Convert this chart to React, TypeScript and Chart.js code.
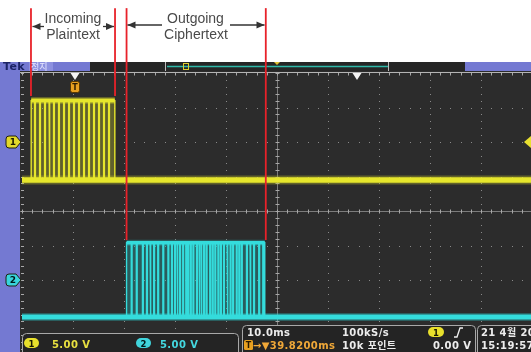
import React, { useEffect, useRef } from "react";
import { Chart, registerables } from "chart.js";
Chart.register(...registerables);

// Time axis in ms (10 ms/div), vertical axis in graticule divisions
const xGridTicks = [0, 10, 20, 30, 40, 50, 60, 70, 80, 90, 100];
const yGridTicks = [0, 1, 2, 3, 4, 5, 6, 7, 8];
const X_MAX = 99.8;

// Channel 1 (Incoming Plaintext)
const ch1Levels = [4.9, 7.2]; // low, high (div)
const ch1Burst = [1.8, 18.2]; // ms
const ch1Dips = [2.55, 3.53, 4.51, 5.39, 6.27, 7.25, 8.24, 9.22, 10.2, 11.18, 12.16, 13.14, 14.12, 15.1, 16.08, 17.06];

// Channel 2 (Outgoing Ciphertext)
const ch2Levels = [0.93, 3.08];
const ch2Burst = [20.5, 47.6];
const ch2Dips = [21.5, 22.5, 23.7, 24.5, 25.2, 25.9, 26.7, 27.7, 28.7, 29.4, 30.0, 30.5, 31.0, 31.6, 32.2, 32.6, 33.1, 33.6, 34.3, 34.8, 35.2, 35.7, 36.2, 36.9, 37.4, 37.9, 38.5, 39.0, 39.6, 40.3, 40.9, 41.4, 42.1, 42.6, 43.1, 44.1, 44.8, 45.5, 46.5, 47.3];

// Annotation markers (ms) and their lower ends (div)
const annoTimes = [1.76, 18.24, 20.5, 47.8];
const annoEnds = [7.33, 7.33, 3.16, 3.16];
const annoTop = 9.88;

function stepSeries(burst: number[], dips: number[], low: number, high: number, w: number) {
  const pts: { x: number; y: number }[] = [{ x: burst[0], y: low }, { x: burst[0], y: high }];
  for (const t of dips) {
    pts.push({ x: t - w, y: high }, { x: t - w, y: low }, { x: t + w, y: low }, { x: t + w, y: high });
  }
  pts.push({ x: burst[1], y: high }, { x: burst[1], y: low });
  return pts;
}

const YEL = "#e6e62c";
const CYN = "#34dcdc";
const BLUE = "#7479d2";

const bgPlugin = {
  id: "scopeBg",
  beforeDraw(chart: any) {
    const ctx = chart.ctx;
    const xs = chart.scales.x, ys = chart.scales.y;
    ctx.save();
    ctx.fillStyle = "#ffffff";
    ctx.fillRect(0, 0, 531, 352);
    ctx.fillStyle = "#2c2c2c";
    ctx.fillRect(20, 71, 511, 281);
    ctx.fillStyle = BLUE;
    ctx.fillRect(0, 62, 20, 290);
    // top bar
    ctx.fillRect(0, 62, 90, 9);
    ctx.fillStyle = "#8c90e0";
    ctx.fillRect(29, 62, 24, 9);
    ctx.fillStyle = "#262626";
    ctx.fillRect(90, 62, 375, 9);
    ctx.fillStyle = BLUE;
    ctx.fillRect(465, 62, 66, 9);
    ctx.strokeStyle = "#bdbdbd";
    ctx.lineWidth = 1;
    ctx.beginPath();
    ctx.moveTo(165.5, 62); ctx.lineTo(165.5, 71);
    ctx.moveTo(388.5, 62); ctx.lineTo(388.5, 71);
    ctx.stroke();
    ctx.strokeStyle = "#2fb8a8";
    ctx.lineWidth = 1.5;
    ctx.beginPath();
    ctx.moveTo(167, 66.5); ctx.lineTo(388, 66.5);
    ctx.stroke();
    ctx.strokeStyle = "#e0d030";
    ctx.lineWidth = 1;
    ctx.strokeRect(183.5, 63.5, 5, 6);
    ctx.fillStyle = "#e0c030";
    ctx.beginPath();
    ctx.moveTo(274, 62); ctx.lineTo(280, 62); ctx.lineTo(277, 65); ctx.closePath();
    ctx.fill();

    // graticule dots
    ctx.fillStyle = "#8a8a8a";
    for (const xv of xGridTicks) {
      const px = Math.round(xs.getPixelForValue(xv));
      for (let j = 0; j <= 40; j++) {
        const py = Math.round(ys.getPixelForValue(j * 0.2));
        ctx.fillRect(px, py, 1, 1);
      }
    }
    for (const yv of yGridTicks) {
      const py = Math.round(ys.getPixelForValue(yv));
      for (let j = 0; j <= 50; j++) {
        const px = Math.round(xs.getPixelForValue(j * 2));
        ctx.fillRect(px, py, 1, 1);
      }
    }
    // center cross-hair
    const cx = Math.round(xs.getPixelForValue(50)) + 0.5;
    const cy = Math.round(ys.getPixelForValue(4)) + 0.5;
    const top = Math.round(ys.getPixelForValue(8)) - 0.5;
    ctx.strokeStyle = "#7c7c7c";
    ctx.lineWidth = 1;
    ctx.beginPath();
    ctx.moveTo(20, cy); ctx.lineTo(531, cy);
    ctx.moveTo(cx, top); ctx.lineTo(cx, 352);
    ctx.stroke();
    ctx.strokeStyle = "#a8a8a8";
    ctx.beginPath();
    for (let j = 0; j <= 50; j++) {
      const px = Math.round(xs.getPixelForValue(j * 2)) + 0.5;
      ctx.moveTo(px, cy - 2); ctx.lineTo(px, cy + 2);
      ctx.moveTo(px, top); ctx.lineTo(px, top + 3);
    }
    for (let j = 0; j <= 40; j++) {
      const py = Math.round(ys.getPixelForValue(j * 0.2)) + 0.5;
      ctx.moveTo(cx - 2, py); ctx.lineTo(cx + 2, py);
      ctx.moveTo(21, py); ctx.lineTo(24, py);
    }
    ctx.stroke();
    ctx.strokeStyle = "#b4b4b4";
    ctx.beginPath();
    ctx.moveTo(20, top); ctx.lineTo(531, top);
    ctx.stroke();
    ctx.restore();
  },
  afterDatasetsDraw(chart: any) {
    const ctx = chart.ctx;
    const xs = chart.scales.x, ys = chart.scales.y;
    ctx.save();
    // red annotation lines
    ctx.strokeStyle = "#e8222a";
    ctx.lineWidth = 1.8;
    annoTimes.forEach((t, i) => {
      const px = xs.getPixelForValue(t);
      ctx.beginPath();
      ctx.moveTo(px, ys.getPixelForValue(annoTop));
      ctx.lineTo(px, ys.getPixelForValue(annoEnds[i]));
      ctx.stroke();
    });
    // arrows
    const arrow = (x1: number, x2: number, y: number) => {
      ctx.strokeStyle = "#333";
      ctx.fillStyle = "#333";
      ctx.lineWidth = 1.3;
      ctx.beginPath();
      ctx.moveTo(x1, y); ctx.lineTo(x2, y);
      ctx.stroke();
      const d = x2 > x1 ? 1 : -1;
      ctx.beginPath();
      ctx.moveTo(x2, y); ctx.lineTo(x2 - d * 8, y - 3.5); ctx.lineTo(x2 - d * 8, y + 3.5); ctx.closePath();
      ctx.fill();
    };
    arrow(44, 32.5, 26.5);
    arrow(103, 114, 26.5);
    arrow(162, 127.5, 25);
    arrow(230, 264.5, 25);
    // white markers
    ctx.fillStyle = "#f4f4f4";
    for (const mx of [75, 357]) {
      ctx.beginPath();
      ctx.moveTo(mx - 4.5, 73); ctx.lineTo(mx + 4.5, 73); ctx.lineTo(mx, 80); ctx.closePath();
      ctx.fill();
    }
    // trigger T marker
    ctx.fillStyle = "#e8a020";
    ctx.strokeStyle = "#5a3800";
    ctx.lineWidth = 1;
    ctx.beginPath();
    ctx.roundRect(70.5, 81.5, 9, 11, 2);
    ctx.fill(); ctx.stroke();
    // channel markers
    const chMark = (y: number, col: string) => {
      ctx.fillStyle = col;
      ctx.strokeStyle = "#202010";
      ctx.lineWidth = 1;
      ctx.beginPath();
      ctx.moveTo(9, y - 6); ctx.lineTo(16, y - 6); ctx.lineTo(21, y); ctx.lineTo(16, y + 6); ctx.lineTo(9, y + 6);
      ctx.quadraticCurveTo(6, y + 6, 6, y + 3); ctx.lineTo(6, y - 3); ctx.quadraticCurveTo(6, y - 6, 9, y - 6);
      ctx.closePath();
      ctx.fill(); ctx.stroke();
    };
    chMark(142, "#e2d82a");
    chMark(280, "#38d4dc");
    // trigger level marker right
    ctx.fillStyle = "#e8e030";
    ctx.beginPath();
    ctx.moveTo(531, 136); ctx.lineTo(524, 142); ctx.lineTo(531, 148); ctx.closePath();
    ctx.fill();
    ctx.restore();
  },
  afterDraw(chart: any) {
    const ctx = chart.ctx;
    ctx.save();
    ctx.strokeStyle = "#a8a8a8";
    ctx.fillStyle = "#242424";
    ctx.lineWidth = 1;
    ctx.beginPath();
    ctx.roundRect(22.5, 333.5, 216, 24, 4);
    ctx.fill(); ctx.stroke();
    ctx.beginPath();
    ctx.roundRect(242.5, 325.5, 233, 32, 4);
    ctx.fill(); ctx.stroke();
    ctx.beginPath();
    ctx.roundRect(477.5, 325.5, 60, 32, 4);
    ctx.fill(); ctx.stroke();
    // pills
    const pill = (x: number, y: number, w: number, h: number, col: string) => {
      ctx.fillStyle = col;
      ctx.beginPath();
      ctx.roundRect(x, y, w, h, h / 2);
      ctx.fill();
    };
    pill(24, 338, 15, 10, "#e8e02c");
    pill(136, 338, 15, 10, "#40d4dc");
    pill(428, 327, 16, 10, "#e8e02c");
    // orange T box
    ctx.fillStyle = "#e8a020";
    ctx.beginPath();
    ctx.roundRect(244, 340, 9, 10, 1.5);
    ctx.fill();
    // edge symbol
    ctx.strokeStyle = "#f0f0f0";
    ctx.lineWidth = 1.3;
    ctx.beginPath();
    ctx.moveTo(454, 337); ctx.lineTo(457, 337); ctx.lineTo(460, 328); ctx.lineTo(463, 328);
    ctx.stroke();
    ctx.restore();
  },
};

const txt = (s: string, x: number, base: number, size: number, color: string, opts: any = {}) => ({ s, x, base, size, color, ...opts });

const labels = [
  txt("Incoming", 73, 22.5, 14, "#4a4a4a", { center: true, font: "'Liberation Sans', Arial, sans-serif" }),
  txt("Plaintext", 73, 38.5, 14, "#4a4a4a", { center: true, font: "'Liberation Sans', Arial, sans-serif" }),
  txt("Outgoing", 195.5, 22.5, 14, "#4a4a4a", { center: true, font: "'Liberation Sans', Arial, sans-serif" }),
  txt("Ciphertext", 196, 38.5, 14, "#4a4a4a", { center: true, font: "'Liberation Sans', Arial, sans-serif" }),
  txt("Tek", 3, 70.5, 11, "#1c2466", { bold: true }),
  txt("정지", 31, 70, 9, "#e6e6ff", { font: "'Noto Sans CJK KR', sans-serif" }),
  txt("T", 75, 91, 8, "#2a1a00", { bold: true, center: true }),
  txt("1", 13, 146, 9, "#1a1a00", { bold: true, center: true }),
  txt("2", 13, 284, 9, "#001a1a", { bold: true, center: true }),
  txt("1", 31.5, 347, 8.5, "#1a1a00", { bold: true, center: true }),
  txt("5.00 V", 52, 348.5, 10, "#e8e040", { bold: true }),
  txt("2", 143.5, 347, 8.5, "#001a1a", { bold: true, center: true }),
  txt("5.00 V", 160, 348.5, 10, "#44d8e0", { bold: true }),
  txt("10.0ms", 247, 336.5, 10, "#ececec", { bold: true }),
  txt("100kS/s", 342, 336.5, 10, "#ececec", { bold: true }),
  txt("T", 248.5, 348.5, 8, "#2a1a00", { bold: true, center: true }),
  txt("→▼39.8200ms", 253, 349.5, 10, "#f0a838", { bold: true }),
  txt("10k 포인트", 342, 349.5, 10, "#ececec", { bold: true }),
  txt("1", 436, 336, 8.5, "#1a1a00", { bold: true, center: true }),
  txt("0.00 V", 433, 349.5, 10, "#ececec", { bold: true }),
  txt("21 4월 20", 481, 336.5, 10, "#ececec", { bold: true }),
  txt("15:19:57", 481, 349.5, 10, "#ececec", { bold: true }),
];

export default function App() {
  const ref = useRef<HTMLCanvasElement | null>(null);
  useEffect(() => {
    if (!ref.current) return;
    const base = (levels: number[], col: string, w: number) => ({
      data: [{ x: 0, y: levels[0] }, { x: X_MAX, y: levels[0] }],
      borderColor: col, borderWidth: w, pointRadius: 0, fill: false,
    });
    const topLine = (burst: number[], levels: number[], col: string, w: number) => ({
      data: [{ x: burst[0], y: levels[1] }, { x: burst[1], y: levels[1] }],
      borderColor: col, borderWidth: w, pointRadius: 0, fill: false,
    });
    const fillArea = (burst: number[], levels: number[], col: string) => ({
      data: [{ x: burst[0], y: levels[1] }, { x: burst[1], y: levels[1] }],
      borderWidth: 0, borderColor: "rgba(0,0,0,0)", pointRadius: 0,
      fill: { value: levels[0] }, backgroundColor: col,
    });
    const wave = (burst: number[], dips: number[], levels: number[], col: string) => ({
      data: stepSeries(burst, dips, levels[0], levels[1], 0.08),
      borderColor: col, borderWidth: 1.4, pointRadius: 0, fill: false,
    });
    const chart = new Chart(ref.current, {
      type: "line",
      data: {
        datasets: [
          topLine(ch1Burst, ch1Levels, YEL, 4),
          wave(ch1Burst, ch1Dips, ch1Levels, YEL),
          base(ch1Levels, YEL, 5.5),
          topLine(ch2Burst, ch2Levels, CYN, 3.5),
          wave(ch2Burst, ch2Dips, ch2Levels, CYN),
          base(ch2Levels, CYN, 5),
          base(ch1Levels, "rgba(200,200,40,0.35)", 9),
          base(ch2Levels, "rgba(40,190,190,0.35)", 8),
          topLine(ch1Burst, ch1Levels, "rgba(200,200,40,0.35)", 7),
          topLine(ch2Burst, ch2Levels, "rgba(40,190,190,0.35)", 6),
          fillArea(ch1Burst, ch1Levels, "rgba(200,200,50,0.33)"),
          fillArea(ch2Burst, ch2Levels, "rgba(40,190,190,0.33)"),
        ] as any,
      },
      options: {
        responsive: false,
        animation: false,
        events: [],
        layout: { padding: { left: 22, top: 73, right: 0, bottom: 3 } },
        elements: { line: { tension: 0 } },
        scales: {
          x: { type: "linear", min: 0, max: X_MAX, display: false },
          y: { type: "linear", min: 0, max: 8, display: false },
        },
        plugins: { legend: { display: false }, tooltip: { enabled: false } },
      },
      plugins: [bgPlugin],
    });
    return () => chart.destroy();
  }, []);

  return (
    <div style={{ position: "fixed", left: 0, top: 0, width: 531, height: 352, overflow: "hidden", background: "#fff" }}>
      <canvas ref={ref} width={531} height={352} style={{ position: "absolute", left: 0, top: 0 }} />
      {labels.map((l: any, i: number) => (
        <div
          key={i}
          style={{
            position: "absolute",
            left: l.x,
            top: l.base - 0.85 * l.size,
            fontSize: l.size,
            lineHeight: 1,
            fontFamily: l.font || "'DejaVu Sans', 'Noto Sans CJK KR', sans-serif",
            fontWeight: l.bold ? "bold" : "normal",
            color: l.color,
            whiteSpace: "nowrap",
            letterSpacing: l.bold && l.size >= 10 ? 0.4 : 0,
            transform: l.center ? "translateX(-50%)" : undefined,
          }}
        >
          {l.s}
        </div>
      ))}
    </div>
  );
}
